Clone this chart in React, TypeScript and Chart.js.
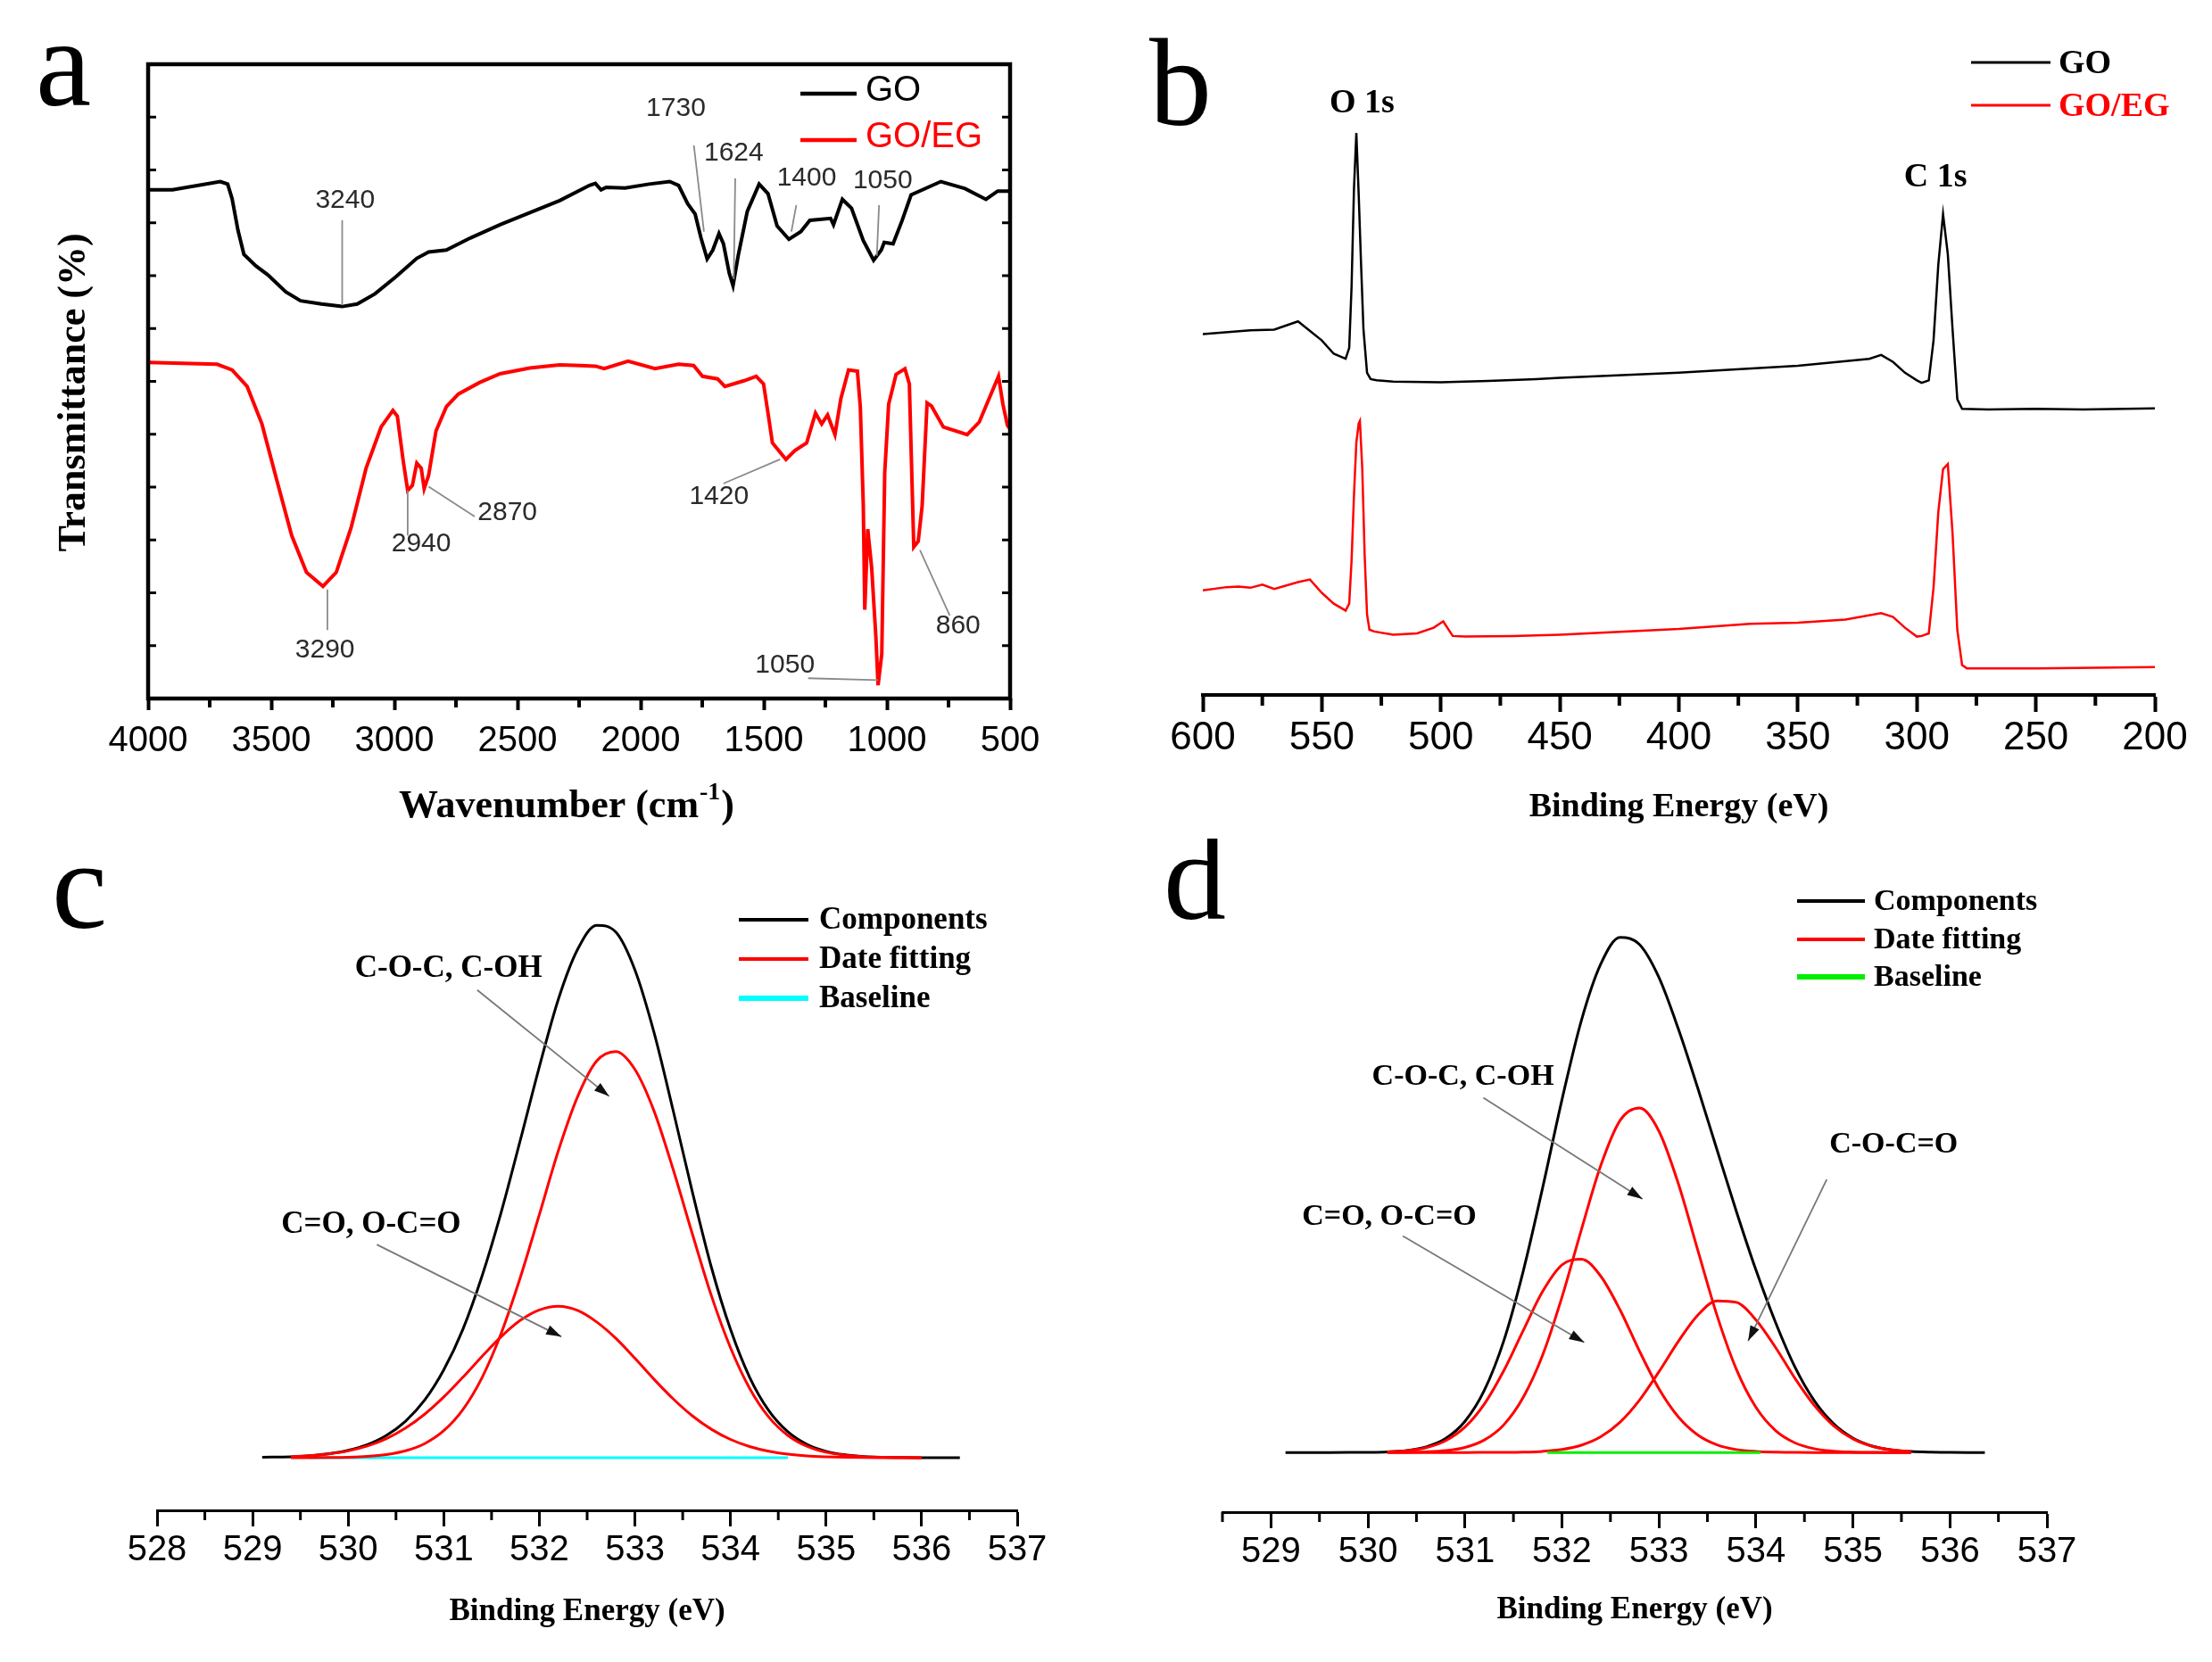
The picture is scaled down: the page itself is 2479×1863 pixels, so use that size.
import { useEffect, useRef } from "react";
import Chart from "chart.js/auto";

const SERIF = '"Liberation Serif", "Times New Roman", serif';
const SANS = '"Liberation Sans", Arial, sans-serif';
const RED = "#ff0000";

type Pt = [number, number];
interface PeakLabel {
  label: string;
  at: Pt;
  from?: Pt;
  to?: Pt;
}

// ---------- (a) FTIR spectra ----------
const FTIR_GO_WN = [
  4000, 3901, 3707, 3677, 3659, 3635, 3611, 3562, 3514, 3441, 3381, 3296, 3212, 3151, 3079, 2994, 2909,
  2861, 2789, 2692, 2571, 2450, 2329, 2208, 2184, 2161, 2140, 2063, 1966, 1882, 1846, 1809, 1779, 1755,
  1730, 1707, 1682, 1664, 1640, 1625, 1604, 1567, 1519, 1483, 1446, 1398, 1350, 1313, 1229, 1217, 1181,
  1144, 1096, 1054, 1023, 1011, 975, 938, 902, 781, 683, 598, 550, 500,
];
const FTIR_GO_T = [
  80.2, 80.2, 81.5, 81.1, 78.8, 73.8, 70.0, 68.2, 66.8, 64.1, 62.7, 62.2, 61.8, 62.2, 63.8, 66.5, 69.4,
  70.4, 70.7, 72.6, 74.7, 76.6, 78.5, 80.9, 81.2, 80.2, 80.6, 80.5, 81.1, 81.5, 80.9, 78.0, 76.4, 72.6,
  69.3, 70.7, 73.3, 71.7, 67.0, 65.1, 69.8, 76.8, 81.1, 79.6, 74.5, 72.4, 73.6, 75.4, 75.7, 74.7, 78.7,
  77.3, 72.2, 69.1, 70.7, 71.9, 71.7, 75.4, 79.4, 81.5, 80.4, 78.7, 80.0, 80.0,
];
const FTIR_EG_WN = [
  4000, 3720, 3659, 3598, 3538, 3478, 3417, 3357, 3290, 3236, 3176, 3115, 3054, 3006, 2988, 2964, 2946,
  2927, 2909, 2891, 2879, 2861, 2831, 2789, 2740, 2655, 2571, 2450, 2329, 2245, 2184, 2148, 2051, 1942,
  1846, 1785, 1749, 1688, 1658, 1580, 1531, 1501, 1483, 1465, 1410, 1374, 1326, 1290, 1265, 1241, 1211,
  1187, 1156, 1120, 1108, 1096, 1090, 1078, 1062, 1045, 1036, 1021, 1009, 993, 963, 927, 909, 891, 873,
  857, 837, 819, 771, 674, 625, 547, 529, 511, 500,
];
const FTIR_EG_T = [
  53.0, 52.7, 51.8, 49.2, 43.3, 34.5, 25.7, 19.9, 17.7, 19.9, 26.9, 36.3, 42.8, 45.4, 44.5, 37.4, 32.8,
  33.6, 37.1, 36.3, 33.1, 35.2, 42.2, 46.0, 48.0, 49.8, 51.2, 52.1, 52.6, 52.5, 52.4, 52.0, 53.2, 52.0,
  52.7, 52.5, 50.8, 50.4, 49.2, 50.1, 50.8, 49.6, 45.0, 40.3, 37.7, 39.1, 40.3, 45.0, 43.3, 44.7, 41.6,
  47.3, 51.8, 51.6, 45.9, 30.4, 14.0, 26.7, 20.6, 9.8, 2.1, 7.0, 35.6, 46.4, 51.1, 52.0, 49.6, 23.9, 24.8,
  30.4, 46.6, 46.1, 42.8, 41.6, 43.6, 50.8, 46.4, 43.1, 42.5,
];
const FTIR_NAMES = ["GO", "GO/EG"];
const FTIR_PEAKS: PeakLabel[] = [
  { label: "3240", at: [3200, 78.5], from: [3212, 75.4], to: [3212, 62.0] },
  { label: "3290", at: [3282, 7.6], from: [3272, 17.2], to: [3272, 10.8] },
  { label: "2940", at: [2891, 24.3], from: [2946, 32.8], to: [2946, 25.7] },
  { label: "2870", at: [2541, 29.3], from: [2861, 33.4], to: [2674, 28.7] },
  { label: "1730", at: [1857, 93.0], from: [1784, 87.2], to: [1743, 73.6] },
  { label: "1624", at: [1622, 86.0], from: [1616, 82.0], to: [1622, 66.1] },
  { label: "1400", at: [1326, 82.1], from: [1368, 77.8], to: [1388, 73.6] },
  { label: "1050", at: [1017, 81.6], from: [1032, 77.8], to: [1041, 69.8] },
  { label: "1420", at: [1682, 31.8], from: [1664, 33.9], to: [1434, 37.7] },
  { label: "1050", at: [1414, 5.3], from: [1320, 3.2], to: [1036, 2.9] },
  { label: "860", at: [711, 11.4], from: [866, 23.4], to: [745, 13.1] },
];

// ---------- (b) XPS survey ----------
const SURVEY_GO_BE = [
  600, 580, 570, 560, 550, 545, 540, 538.5, 537.5, 536.5, 535.5, 534.5, 533.5, 532.5, 531, 529.5, 527, 520,
  500, 480, 460, 450, 400, 350, 320, 315, 310, 305, 300, 298, 295, 293, 291, 289, 287, 285, 283, 281, 270,
  250, 230, 200,
];
const SURVEY_GO_I = [
  56.9, 57.5, 57.6, 58.9, 55.9, 53.8, 53.0, 54.7, 64.4, 79.7, 88.6, 78.8, 67.8, 57.6, 50.8, 49.8, 49.6, 49.4,
  49.3, 49.5, 49.8, 50.0, 50.8, 51.9, 53.0, 53.6, 52.5, 50.8, 49.6, 49.2, 49.6, 55.9, 67.8, 75.8, 69.5, 57.6,
  46.6, 45.1, 45.0, 45.1, 45.0, 45.2,
];
const SURVEY_EG_BE = [
  600, 590, 585, 580, 575, 570, 560, 555, 550, 545, 540, 538.5, 537.5, 536.5, 535.5, 534.5, 534, 533, 532,
  531, 530, 528, 520, 510, 503, 499, 495, 490, 470, 450, 400, 370, 350, 330, 315, 310, 305, 300, 298, 295,
  293, 291, 289, 287, 285, 283, 281, 279, 250, 200,
];
const SURVEY_EG_I = [
  16.5, 17.0, 17.1, 16.9, 17.4, 16.7, 17.8, 18.2, 16.1, 14.4, 13.3, 14.4, 21.2, 31.4, 39.8, 42.8, 43.2, 35.6,
  22.0, 12.7, 10.3, 10.0, 9.5, 9.7, 10.6, 11.6, 9.3, 9.2, 9.3, 9.5, 10.4, 11.2, 11.4, 11.9, 12.9, 12.3, 10.6,
  9.2, 9.3, 9.7, 16.9, 28.8, 35.6, 36.4, 25.4, 10.2, 4.7, 4.2, 4.2, 4.4,
];
const SURVEY_NAMES = ["GO", "GO/EG"];
const SURVEY_PEAKS: PeakLabel[] = [
  { label: "O 1s", at: [533.1, 93.2] },
  { label: "C 1s", at: [292.2, 81.5] },
];

// ---------- (c) O 1s fit, GO ----------
const FIT_C_BE = [
  529.4, 529.6, 529.8, 530.0, 530.2, 530.4, 530.6, 530.8, 531.0, 531.2, 531.4, 531.6, 531.8, 532.0, 532.2,
  532.4, 532.6, 532.8, 533.0, 533.2, 533.4, 533.6, 533.8, 534.0, 534.2, 534.4, 534.6, 534.8, 535.0, 535.2,
  535.4, 535.6, 535.8, 536.0,
];
const FIT_C_COC = [
  0.0, 0.01, 0.04, 0.1, 0.25, 0.6, 1.31, 2.68, 5.14, 9.14, 15.2, 23.6, 34.2, 46.2, 58.4, 68.6, 75.4, 77.2,
  73.8, 65.9, 54.8, 42.6, 30.8, 20.9, 13.2, 7.74, 4.25, 2.18, 1.04, 0.47, 0.19, 0.08, 0.03, 0.01,
];
const FIT_C_CO = [
  0.19, 0.38, 0.72, 1.3, 2.23, 3.64, 5.64, 8.27, 11.55, 15.3, 19.25, 23.0, 26.1, 28.1, 28.8, 28.0, 25.8, 22.7,
  18.9, 14.9, 11.2, 7.98, 5.41, 3.48, 2.12, 1.23, 0.68, 0.35, 0.18, 0.08, 0.03, 0.01, 0.0, 0.0,
];
const SUM_C_BE = [
  529.1, 529.4, 529.6, 529.8, 530.0, 530.2, 530.4, 530.6, 530.8, 531.0, 531.2, 531.4, 531.6, 531.8, 532.0,
  532.2, 532.4, 532.6, 532.8, 533.0, 533.2, 533.4, 533.6, 533.8, 534.0, 534.2, 534.4, 534.6, 534.8, 535.0,
  535.2, 535.4, 535.6, 535.8, 536.0, 536.2, 536.4,
];
const SUM_C = [
  0.1, 0.19, 0.39, 0.76, 1.4, 2.48, 4.24, 6.95, 10.95, 16.7, 24.4, 34.5, 46.6, 60.3, 74.3, 87.2, 96.6, 101.2,
  99.9, 92.7, 80.8, 66.0, 50.6, 36.2, 24.4, 15.3, 8.97, 4.93, 2.53, 1.22, 0.55, 0.22, 0.09, 0.03, 0.01, 0.0, 0.0,
];
const BASE_C_BE = [529.6, 534.6];
const BASE_C = [0, 0];

// ---------- (d) O 1s fit, GO/EG ----------
const FIT_D_BE = [
  530.2, 530.4, 530.6, 530.8, 531.0, 531.2, 531.4, 531.6, 531.8, 532.0, 532.2, 532.4, 532.6, 532.8, 533.0,
  533.2, 533.4, 533.6, 533.8, 534.0, 534.2, 534.4, 534.6, 534.8, 535.0, 535.2, 535.4, 535.6,
];
const FIT_D_COC = [
  0.01, 0.04, 0.12, 0.36, 0.99, 2.44, 5.38, 10.7, 18.9, 30.2, 43.3, 55.8, 64.6, 67.0, 62.5, 52.3, 39.4, 26.6,
  16.1, 8.79, 4.3, 1.89, 0.74, 0.26, 0.08, 0.02, 0.0, 0.0,
];
const FIT_D_CO = [
  0.11, 0.34, 0.94, 2.29, 4.94, 9.43, 15.9, 23.7, 31.3, 36.5, 37.6, 34.3, 27.7, 19.7, 12.4, 6.93, 3.42, 1.49,
  0.57, 0.2, 0.06, 0.02, 0.0, 0.0, 0.0, 0.0, 0.0, 0.0,
];
const FIT_D_OCO = [
  0.0, 0.0, 0.0, 0.0, 0.0, 0.01, 0.02, 0.07, 0.22, 0.59, 1.42, 3.06, 5.9, 10.2, 15.7, 21.6, 26.7, 29.5, 29.2,
  25.8, 20.5, 14.5, 9.2, 5.22, 2.65, 1.2, 0.49, 0.18,
];
const SUM_D_BE = [
  529.15, 529.4, 529.6, 529.8, 530.0, 530.2, 530.4, 530.6, 530.8, 531.0, 531.2, 531.4, 531.6, 531.8, 532.0,
  532.2, 532.4, 532.6, 532.8, 533.0, 533.2, 533.4, 533.6, 533.8, 534.0, 534.2, 534.4, 534.6, 534.8, 535.0,
  535.2, 535.4, 535.6, 535.8, 536.0, 536.2, 536.36,
];
const SUM_D = [
  0.0, 0.0, 0.0, 0.01, 0.03, 0.12, 0.39, 1.1, 2.7, 6.05, 12.1, 21.7, 35.2, 51.4, 68.6, 84.0, 95.0, 100.2, 98.8,
  92.4, 82.4, 70.9, 58.8, 46.8, 35.5, 25.4, 16.7, 10.1, 5.59, 2.79, 1.24, 0.5, 0.18, 0.06, 0.02, 0.0, 0.0,
];
const BASE_D_BE = [531.85, 534.05];
const BASE_D = [0, 0];

const FIT_NAMES = ["Components", "Date fitting", "Baseline"];
const FIT_C_LABELS: PeakLabel[] = [
  { label: "C-O-C, C-OH", at: [531.05, 92.9], from: [531.35, 88.9], to: [532.73, 68.7] },
  { label: "C=O, O-C=O", at: [530.24, 44.2], from: [530.3, 40.5], to: [532.23, 23.0] },
];
const FIT_D_LABELS: PeakLabel[] = [
  { label: "C-O-C, C-OH", at: [530.98, 73.1], from: [531.19, 69.0], to: [532.83, 49.3] },
  { label: "C=O, O-C=O", at: [530.22, 45.8], from: [530.36, 42.1], to: [532.23, 21.4] },
  { label: "C-O-C=O", at: [535.42, 59.9], from: [534.73, 53.1], to: [533.92, 21.7] },
];

// ---------- helpers ----------
function pts(xs: number[], ys: number[]) {
  return xs.map((x, i) => ({ x, y: ys[i] }));
}

function series(label: string, xs: number[], ys: number[], color: string, width: number, smooth = false) {
  return {
    label,
    data: pts(xs, ys),
    borderColor: color,
    borderWidth: width,
    pointRadius: 0,
    fill: false,
    tension: 0,
    cubicInterpolationMode: smooth ? "monotone" : "default",
  };
}

function bottomAxis(o: {
  min: number;
  max: number;
  step: number;
  reverse?: boolean;
  height: number;
  tickLen: number;
  tickW: number;
  border: number;
  font: number;
  pad: number;
}) {
  return {
    type: "linear",
    position: "bottom",
    min: o.min,
    max: o.max,
    reverse: !!o.reverse,
    afterFit: (s: any) => {
      s.height = o.height;
    },
    border: { display: o.border > 0, width: o.border, color: "#000" },
    grid: {
      display: true,
      drawOnChartArea: false,
      drawTicks: true,
      tickLength: o.tickLen,
      tickWidth: o.tickW,
      tickColor: "#000",
    },
    ticks: {
      stepSize: o.step,
      includeBounds: false,
      autoSkip: false,
      maxRotation: 0,
      minRotation: 0,
      padding: o.pad,
      color: "#000",
      font: { family: SANS, size: o.font },
      callback: (v: any) => String(v),
    },
  };
}

function seg(ctx: CanvasRenderingContext2D, x1: number, y1: number, x2: number, y2: number) {
  ctx.beginPath();
  ctx.moveTo(x1, y1);
  ctx.lineTo(x2, y2);
  ctx.stroke();
}

function txt(
  ctx: CanvasRenderingContext2D,
  s: string,
  x: number,
  y: number,
  font: string,
  color = "#000",
  align: CanvasTextAlign = "center",
  base: CanvasTextBaseline = "middle"
) {
  ctx.font = font;
  ctx.fillStyle = color;
  ctx.textAlign = align;
  ctx.textBaseline = base;
  ctx.fillText(s, x, y);
}

function toPx(chart: any, p: Pt): Pt {
  return [chart.scales.x.getPixelForValue(p[0]), chart.scales.y.getPixelForValue(p[1])];
}

// shorter ticks half-way between the labelled ones
function minorTicks(ctx: CanvasRenderingContext2D, scale: any, y0: number, len: number, w: number) {
  const t: number[] = scale.ticks.map((k: any) => k.value).sort((a: number, b: number) => a - b);
  if (t.length < 2) return;
  const step = t[1] - t[0];
  const vals: number[] = [];
  for (let i = 0; i < t.length - 1; i++) vals.push((t[i] + t[i + 1]) / 2);
  if (t[0] - step / 2 >= scale.min - 1e-9) vals.push(t[0] - step / 2);
  if (t[t.length - 1] + step / 2 <= scale.max + 1e-9) vals.push(t[t.length - 1] + step / 2);
  ctx.strokeStyle = "#000";
  ctx.lineWidth = w;
  for (const v of vals) {
    const px = scale.getPixelForValue(v);
    seg(ctx, px, y0, px, y0 + len);
  }
}

function arrow(ctx: CanvasRenderingContext2D, a: Pt, b: Pt) {
  ctx.strokeStyle = "#777";
  ctx.lineWidth = 1.8;
  seg(ctx, a[0], a[1], b[0], b[1]);
  const ang = Math.atan2(b[1] - a[1], b[0] - a[0]);
  const L = 17;
  const W = 5.5;
  ctx.fillStyle = "#111";
  ctx.beginPath();
  ctx.moveTo(b[0], b[1]);
  ctx.lineTo(b[0] - L * Math.cos(ang) + W * Math.sin(ang), b[1] - L * Math.sin(ang) - W * Math.cos(ang));
  ctx.lineTo(b[0] - L * Math.cos(ang) - W * Math.sin(ang), b[1] - L * Math.sin(ang) + W * Math.cos(ang));
  ctx.closePath();
  ctx.fill();
}

function legend(
  ctx: CanvasRenderingContext2D,
  names: string[],
  colors: string[],
  widths: number[],
  x1: number,
  x2: number,
  ys: number[],
  textX: number,
  textDy: number,
  font: string,
  textColors: string[]
) {
  names.forEach((n, i) => {
    ctx.strokeStyle = colors[i];
    ctx.lineWidth = widths[i];
    seg(ctx, x1, ys[i], x2, ys[i]);
    txt(ctx, n, textX, ys[i] + textDy, font, textColors[i], "left");
  });
}

function letter(ctx: CanvasRenderingContext2D, s: string, x: number, y: number) {
  txt(ctx, s, x, y, `140px ${SERIF}`, "#000", "left", "alphabetic");
}

// ---------- panel decorations ----------
const ftirDecor = {
  id: "ftirDecor",
  afterDraw(chart: any) {
    const { ctx, chartArea: ca } = chart;
    const y = chart.scales.y;
    ctx.save();
    ctx.strokeStyle = "#000";
    ctx.lineWidth = 4.5;
    ctx.strokeRect(ca.left, ca.top, ca.right - ca.left, ca.bottom - ca.top);
    minorTicks(ctx, chart.scales.x, ca.bottom, 10, 4);
    ctx.lineWidth = 3;
    for (let k = 1; k < 12; k++) {
      const py = y.getPixelForValue((k * 100) / 12);
      seg(ctx, ca.left, py, ca.left + 9, py);
      seg(ctx, ca.right - 9, py, ca.right, py);
    }
    for (const p of FTIR_PEAKS) {
      if (p.from && p.to) {
        const a = toPx(chart, p.from);
        const b = toPx(chart, p.to);
        ctx.strokeStyle = "#8a8a8a";
        ctx.lineWidth = 1.8;
        seg(ctx, a[0], a[1], b[0], b[1]);
      }
      const c = toPx(chart, p.at);
      txt(ctx, p.label, c[0], c[1], `30px ${SANS}`, "#2a2a2a");
    }
    legend(ctx, FTIR_NAMES, ["#000", RED], [4.5, 4.5], 897, 960, [105, 157], 970, -3, `40px ${SANS}`, ["#000", RED]);
    letter(ctx, "a", 40, 118);
    // axis titles
    const main = "Wavenumber (cm";
    const sup = "-1";
    const tail = ")";
    ctx.font = `bold 44px ${SERIF}`;
    const w1 = ctx.measureText(main).width;
    const w3 = ctx.measureText(tail).width;
    ctx.font = `bold 28px ${SERIF}`;
    const w2 = ctx.measureText(sup).width;
    let sx = 634 - (w1 + w2 + w3) / 2;
    txt(ctx, main, sx, 916, `bold 44px ${SERIF}`, "#000", "left", "alphabetic");
    sx += w1;
    txt(ctx, sup, sx + 1, 896, `bold 28px ${SERIF}`, "#000", "left", "alphabetic");
    sx += w2 + 2;
    txt(ctx, tail, sx, 916, `bold 44px ${SERIF}`, "#000", "left", "alphabetic");
    ctx.save();
    ctx.translate(84, 440);
    ctx.rotate(-Math.PI / 2);
    txt(ctx, "Transmittance (%)", 0, 0, `bold 44px ${SERIF}`);
    ctx.restore();
    ctx.restore();
  },
};

const surveyDecor = {
  id: "surveyDecor",
  afterDraw(chart: any) {
    const { ctx, chartArea: ca } = chart;
    ctx.save();
    minorTicks(ctx, chart.scales.x, ca.bottom, 12, 4);
    for (const p of SURVEY_PEAKS) {
      const c = toPx(chart, p.at);
      txt(ctx, p.label, c[0], c[1], `bold 38px ${SERIF}`);
    }
    legend(ctx, SURVEY_NAMES, ["#000", RED], [3, 3], 969, 1058, [70, 118], 1067, 2, `bold 38px ${SERIF}`, ["#000", RED]);
    letter(ctx, "b", 48, 140);
    txt(ctx, "Binding Energy (eV)", (ca.left + ca.right) / 2, 905, `bold 38px ${SERIF}`);
    ctx.restore();
  },
};

function fitDecor(
  id: string,
  labels: PeakLabel[],
  baseColor: string,
  legendX: [number, number, number],
  legendYs: number[],
  fs: number,
  mark: string,
  markPos: Pt,
  titleY: number
) {
  return {
    id,
    afterDraw(chart: any) {
      const { ctx, chartArea: ca } = chart;
      ctx.save();
      minorTicks(ctx, chart.scales.x, ca.bottom, 11, 3);
      for (const p of labels) {
        if (p.from && p.to) arrow(ctx, toPx(chart, p.from), toPx(chart, p.to));
        const c = toPx(chart, p.at);
        txt(ctx, p.label, c[0], c[1], `bold ${fs}px ${SERIF}`);
      }
      legend(
        ctx,
        FIT_NAMES,
        ["#000", RED, baseColor],
        [4, 4, 6],
        legendX[0],
        legendX[1],
        legendYs,
        legendX[2],
        1,
        `bold ${fs}px ${SERIF}`,
        ["#000", "#000", "#000"]
      );
      letter(ctx, mark, markPos[0], markPos[1]);
      txt(ctx, "Binding Energy (eV)", (ca.left + ca.right) / 2, titleY, `bold 35px ${SERIF}`);
      ctx.restore();
    },
  };
}

const baseOptions = (pad: { left: number; right: number; top: number }, x: any, yMin: number, yMax: number) => ({
  animation: false,
  responsive: false,
  devicePixelRatio: 1,
  layout: { padding: { left: pad.left, right: pad.right, top: pad.top, bottom: 0 } },
  plugins: { legend: { display: false }, tooltip: { enabled: false } },
  scales: { x, y: { display: false, min: yMin, max: yMax } },
});

function ftirConfig(): any {
  return {
    type: "line",
    data: {
      datasets: [
        series("GO", FTIR_GO_WN, FTIR_GO_T, "#000", 4),
        series("GO/EG", FTIR_EG_WN, FTIR_EG_T, RED, 4),
      ],
    },
    options: baseOptions(
      { left: 166, right: 108, top: 72 },
      bottomAxis({ min: 500, max: 4000, step: 500, reverse: true, height: 157, tickLen: 13, tickW: 4, border: 0, font: 40, pad: 11 }),
      0,
      100
    ),
    plugins: [ftirDecor],
  };
}

function surveyConfig(): any {
  return {
    type: "line",
    data: {
      datasets: [
        series("GO", SURVEY_GO_BE, SURVEY_GO_I, "#000", 2.5),
        series("GO/EG", SURVEY_EG_BE, SURVEY_EG_I, RED, 2.5),
      ],
    },
    options: baseOptions(
      { left: 108, right: 64, top: 68 },
      bottomAxis({ min: 200, max: 600, step: 50, reverse: true, height: 161, tickLen: 19, tickW: 4, border: 4, font: 44, pad: 3 }),
      0,
      100
    ),
    plugins: [surveyDecor],
  };
}

function fitCConfig(): any {
  return {
    type: "line",
    data: {
      datasets: [
        series("C-O-C, C-OH", FIT_C_BE, FIT_C_COC, RED, 3, true),
        series("C=O, O-C=O", FIT_C_BE, FIT_C_CO, RED, 3, true),
        series("Components", SUM_C_BE, SUM_C, "#000", 3, true),
        series("Baseline", BASE_C_BE, BASE_C, "#00ffff", 3),
      ],
    },
    options: baseOptions(
      { left: 176, right: 100, top: 60 },
      bottomAxis({ min: 528, max: 537, step: 1, height: 170, tickLen: 18, tickW: 3, border: 3, font: 40, pad: 3 }),
      -10,
      107.5
    ),
    plugins: [
      fitDecor("fitC", FIT_C_LABELS, "#00ffff", [828, 906, 918], [91, 135, 179], 35, "c", [58, 100], 867),
    ],
  };
}

function fitDConfig(): any {
  return {
    type: "line",
    data: {
      datasets: [
        series("Baseline", BASE_D_BE, BASE_D, "#00ee00", 3),
        series("C-O-C, C-OH", FIT_D_BE, FIT_D_COC, RED, 3, true),
        series("C=O, O-C=O", FIT_D_BE, FIT_D_CO, RED, 3, true),
        series("C-O-C=O", FIT_D_BE, FIT_D_OCO, RED, 3, true),
        series("Components", SUM_D_BE, SUM_D, "#000", 3, true),
      ],
    },
    options: baseOptions(
      { left: 130, right: 185, top: 60 },
      bottomAxis({ min: 528.5, max: 537, step: 1, height: 168, tickLen: 18, tickW: 3, border: 3, font: 40, pad: 3 }),
      -11.6,
      109
    ),
    plugins: [
      fitDecor("fitD", FIT_D_LABELS, "#00ee00", [774, 850, 860], [70, 113, 155], 34, "d", [64, 90], 865),
    ],
  };
}

function Panel({ left, top, width, height, build }: { left: number; top: number; width: number; height: number; build: () => any }) {
  const ref = useRef<HTMLCanvasElement>(null);
  useEffect(() => {
    if (!ref.current) return;
    const chart = new Chart(ref.current, build());
    return () => chart.destroy();
  }, [build]);
  return (
    <div style={{ position: "absolute", left, top, width, height }}>
      <canvas ref={ref} width={width} height={height} style={{ width, height, display: "block" }} />
    </div>
  );
}

export default function App() {
  return (
    <div style={{ position: "absolute", left: 0, top: 0, width: 2479, height: 1863, background: "#fff", overflow: "hidden" }}>
      <Panel left={0} top={0} width={1240} height={940} build={ftirConfig} />
      <Panel left={1240} top={0} width={1239} height={940} build={surveyConfig} />
      <Panel left={0} top={940} width={1240} height={923} build={fitCConfig} />
      <Panel left={1240} top={940} width={1239} height={923} build={fitDConfig} />
    </div>
  );
}
